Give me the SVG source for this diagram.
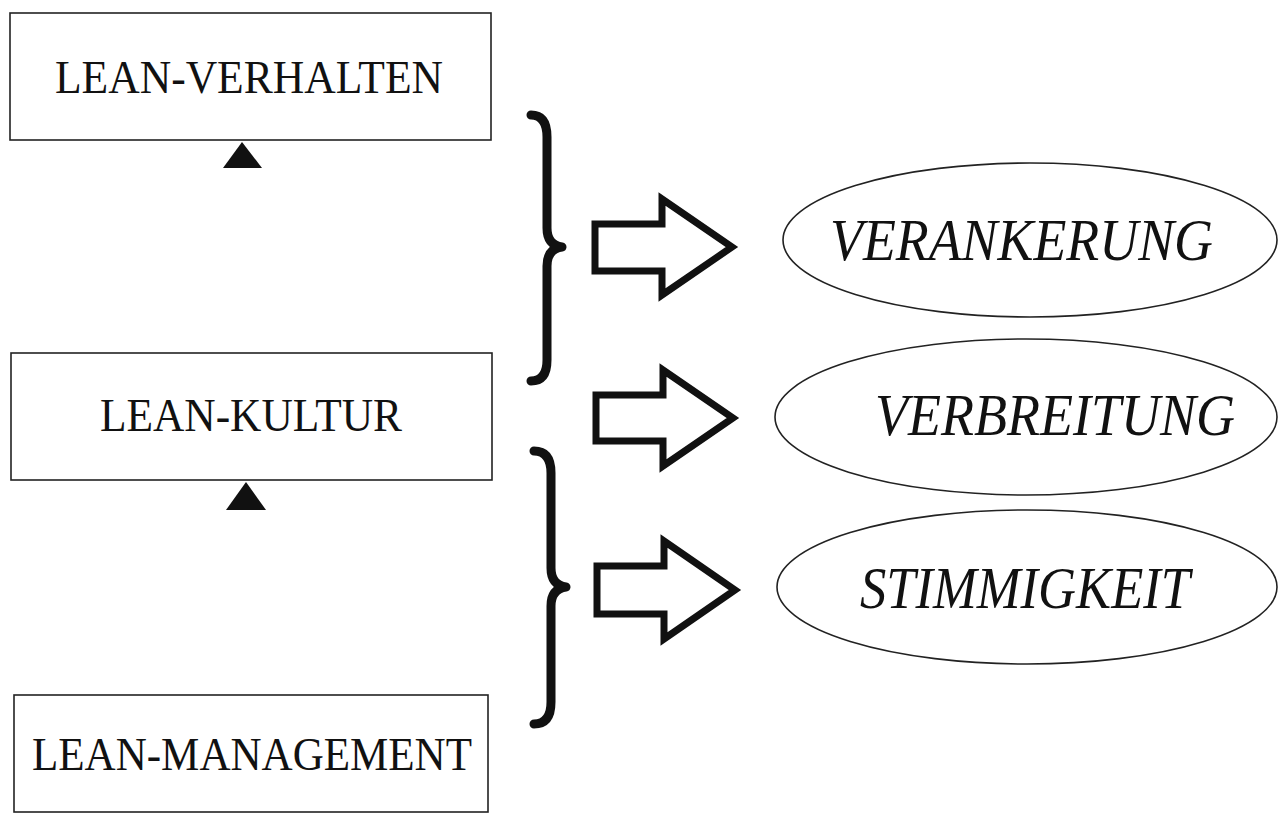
<svg xmlns="http://www.w3.org/2000/svg" width="1278" height="817" viewBox="0 0 1278 817">
<style>
.box{fill:#fff;stroke:#222;stroke-width:1.6}
.lbl{font-family:"Liberation Serif","Times New Roman",serif;font-size:46px;fill:#111}
.oval{fill:#fff;stroke:#222;stroke-width:1.6}
.olbl{font-family:"Liberation Serif","Times New Roman",serif;font-style:italic;font-size:60px;fill:#111}
.arrow{fill:#fff;stroke:#111;stroke-width:7;stroke-linejoin:miter}
.brace{fill:none;stroke:#111;stroke-width:9;stroke-linecap:round;stroke-linejoin:round}
.tri{fill:#111}
</style>
<rect width="1278" height="817" fill="#fff"/>
<g id="n-verhalten">
<rect class="box" x="10" y="13" width="481" height="127"/>
<text class="lbl" x="55" y="93" textLength="388" lengthAdjust="spacingAndGlyphs">LEAN-VERHALTEN</text>
</g>
<g id="n-kultur">
<rect class="box" x="11" y="353" width="481" height="127"/>
<text class="lbl" x="100" y="431" textLength="302" lengthAdjust="spacingAndGlyphs">LEAN-KULTUR</text>
</g>
<g id="n-management">
<rect class="box" x="14" y="695" width="474" height="117"/>
<text class="lbl" x="32" y="770" textLength="440" lengthAdjust="spacingAndGlyphs">LEAN-MANAGEMENT</text>
</g>
<g id="n-verankerung">
<ellipse class="oval" cx="1030" cy="240" rx="247" ry="77"/>
<text class="olbl" x="830" y="260" textLength="383" lengthAdjust="spacingAndGlyphs">VERANKERUNG</text>
</g>
<g id="n-verbreitung">
<ellipse class="oval" cx="1026" cy="417" rx="251" ry="78"/>
<text class="olbl" x="875" y="435" textLength="360" lengthAdjust="spacingAndGlyphs">VERBREITUNG</text>
</g>
<g id="n-stimmigkeit">
<ellipse class="oval" cx="1027" cy="587" rx="250" ry="77"/>
<text class="olbl" x="860" y="608" textLength="330" lengthAdjust="spacingAndGlyphs">STIMMIGKEIT</text>
</g>
<g id="connectors">
<polygon class="tri" points="242,142 262,168 223,168"/>
<polygon class="tri" points="246,482 266,510 226,510"/>
<path class="brace" d="M531,115 Q547,115 547,137 L547,228 Q547,245 562,247 Q547,249 547,266 L547,360 Q547,381 531,381"/>
<path class="brace" d="M534,451 Q551,451 551,473 L551,568 Q551,585 566,587 Q551,589 551,606 L551,702 Q551,724 534,724"/>
<polygon class="arrow" points="595,224 662,224 662,199 732,247 662,295 662,271 595,271"/>
<polygon class="arrow" points="596,395 663,395 663,370 733,418 663,466 663,441 596,441"/>
<polygon class="arrow" points="597,566 664,566 664,541 735,590 664,639 664,614 597,614"/>
</g>
</svg>
